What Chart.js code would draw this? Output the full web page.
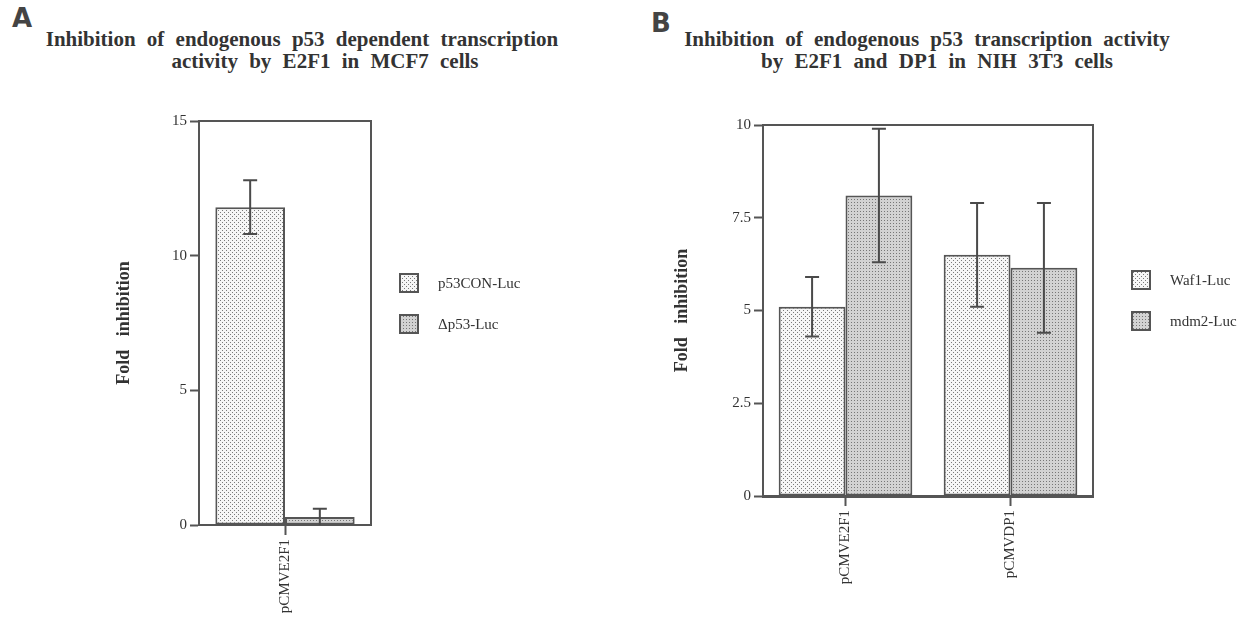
<!DOCTYPE html>
<html>
<head>
<meta charset="utf-8">
<script src="https://cdn.jsdelivr.net/npm/chart.js@4.4.0/dist/chart.umd.min.js"></script>
<style>
  body { margin: 0; background: #fff; width: 1250px; height: 620px; position: relative; overflow: hidden; font-family: 'Liberation Serif', 'Times New Roman', Times, serif; color: #333; }
  .letter { position: absolute; font-family: 'DejaVu Sans', sans-serif; font-weight: bold; font-size: 26px; color: #444; }
  .title { position: absolute; text-align: center; font-weight: bold; font-size: 21px; line-height: 22px; word-spacing: 6px; color: #333; white-space: nowrap; }
  canvas { position: absolute; top: 0; }
</style>
</head>
<body>
<div class="letter" style="left:12px;top:3px">A</div>
<div class="letter" style="left:651px;top:8px">B</div>
<div class="title" style="left:0;width:604px;top:28px">Inhibition of endogenous p53 dependent transcription</div>
<div class="title" style="left:0;width:650px;top:50px">activity by E2F1 in MCF7 cells</div>
<div class="title" style="left:627px;width:600px;top:28px">Inhibition of endogenous p53 transcription activity</div>
<div class="title" style="left:637px;width:600px;top:50px">by E2F1 and DP1 in NIH 3T3 cells</div>
<canvas id="chartA" width="625" height="620" style="left:0"></canvas>
<canvas id="chartB" width="625" height="620" style="left:625px"></canvas>

<script>
// panel A - MCF7
const categoriesA = ['pCMVE2F1'];
const p53conA = [11.8];
const p53conErrA = [1.0];
const dp53A = [0.3];
const dp53ErrA = [0.3];
const yTicksA = [0, 5, 10, 15];

// panel B - NIH 3T3
const categoriesB = ['pCMVE2F1', 'pCMVDP1'];
const waf1B = [5.1, 6.5];
const waf1ErrB = [0.8, 1.4];
const mdm2B = [8.1, 6.15];
const mdm2ErrB = [1.8, 1.75];
const yTicksB = [0, 2.5, 5, 7.5, 10];

const INK = '#555';
const serif = "'Liberation Serif', 'Times New Roman', Times, serif";

function dotPattern(bg, dot, size, pts) {
  const c = document.createElement('canvas');
  c.width = c.height = size;
  const g = c.getContext('2d');
  g.fillStyle = bg;
  g.fillRect(0, 0, size, size);
  g.fillStyle = dot;
  pts.forEach(([x, y]) => g.fillRect(x, y, 1, 1));
  return g.createPattern(c, 'repeat');
}
const lightDots = dotPattern('#f6f6f6', '#7a7a7a', 4, [[0, 0], [2, 2]]);
const denseDots = dotPattern('#d2d2d2', '#767676', 3, [[1, 1]]);

const errorBars = {
  id: 'errorBars',
  afterDatasetsDraw(chart) {
    const { ctx, scales: { y } } = chart;
    ctx.save();
    ctx.strokeStyle = '#4a4a4a';
    ctx.lineWidth = 2;
    chart.data.datasets.forEach((ds, i) => {
      chart.getDatasetMeta(i).data.forEach((bar, j) => {
        const v = ds.data[j], e = ds.errors[j];
        const hi = y.getPixelForValue(v + e);
        const lo = y.getPixelForValue(Math.max(0, v - e));
        const x = bar.x;
        ctx.beginPath();
        ctx.moveTo(x, hi); ctx.lineTo(x, lo);
        ctx.moveTo(x - 7, hi); ctx.lineTo(x + 7, hi);
        if (v - e > 0) { ctx.moveTo(x - 7, lo); ctx.lineTo(x + 7, lo); }
        ctx.stroke();
      });
    });
    ctx.restore();
  }
};

// top and right edges of the plot box
const frame = {
  id: 'frame',
  beforeDatasetsDraw(chart) {
    const { ctx, chartArea: a } = chart;
    ctx.save();
    ctx.strokeStyle = INK;
    ctx.lineWidth = 2;
    ctx.beginPath();
    ctx.moveTo(a.left, a.top); ctx.lineTo(a.right, a.top); ctx.lineTo(a.right, a.bottom);
    ctx.stroke();
    ctx.restore();
  }
};

const boxLegend = {
  id: 'boxLegend',
  afterDraw(chart, args, opts) {
    const ctx = chart.ctx;
    ctx.save();
    ctx.font = '15px ' + serif;
    ctx.textBaseline = 'middle';
    chart.data.datasets.forEach((ds, i) => {
      const y = opts.y + i * opts.gap;
      ctx.fillStyle = ds.backgroundColor;
      ctx.fillRect(opts.x, y - 9, 18, 18);
      ctx.strokeStyle = INK;
      ctx.lineWidth = 2;
      ctx.strokeRect(opts.x, y - 9, 18, 18);
      ctx.fillStyle = '#333';
      ctx.fillText(ds.label, opts.x + 38, y + 1);
    });
    ctx.restore();
  }
};

function makeChart(id, labels, datasets, yTicks, yMax, pad, yWidth, xHeight, legend, xBorder) {
  return new Chart(document.getElementById(id), {
    type: 'bar',
    data: { labels: labels, datasets: datasets },
    plugins: [frame, errorBars, boxLegend],
    options: {
      responsive: false,
      animation: false,
      devicePixelRatio: 1,
      layout: { padding: pad },
      plugins: {
        legend: { display: false },
        title: { display: false },
        tooltip: { enabled: false },
        boxLegend: legend
      },
      scales: {
        x: {
          grid: { display: true, drawOnChartArea: false, offset: false, tickLength: 10, color: INK, tickWidth: 2 },
          border: { color: INK, width: xBorder },
          ticks: { minRotation: 90, maxRotation: 90, padding: 4, color: '#333', font: { family: serif, size: 15 } },
          afterFit: (s) => { s.height = xHeight; }
        },
        y: {
          min: 0,
          max: yMax,
          grid: { display: true, drawOnChartArea: false, tickLength: 9, color: INK, tickWidth: 2 },
          border: { color: INK, width: 2 },
          ticks: { padding: 3, color: '#333', font: { family: serif, size: 15 } },
          afterBuildTicks: (s) => { s.ticks = yTicks.map(v => ({ value: v })); },
          title: {
            display: true,
            text: 'Fold   inhibition',
            color: '#333',
            padding: 0,
            font: { family: serif, size: 18, weight: 'bold', lineHeight: 1.2 }
          },
          afterFit: (s) => { s.width = yWidth; }
        }
      }
    }
  });
}

const barStyle = { borderColor: INK, borderWidth: 2, borderSkipped: false, categoryPercentage: 0.81, barPercentage: 1.0 };

makeChart('chartA', categoriesA, [
  Object.assign({ label: 'p53CON-Luc', data: p53conA, errors: p53conErrA, backgroundColor: lightDots }, barStyle),
  Object.assign({ label: '\u0394p53-Luc', data: dp53A, errors: dp53ErrA, backgroundColor: denseDots }, barStyle)
], yTicksA, 15, { left: 114, top: 121, right: 254, bottom: 5 }, 85, 90, { x: 400, y: 283, gap: 41 }, 2);

makeChart('chartB', categoriesB, [
  Object.assign({ label: 'Waf1-Luc', data: waf1B, errors: waf1ErrB, backgroundColor: lightDots }, barStyle),
  Object.assign({ label: 'mdm2-Luc', data: mdm2B, errors: mdm2ErrB, backgroundColor: denseDots }, barStyle)
], yTicksB, 10, { left: 47, top: 125, right: 157, bottom: 14 }, 91, 110, { x: 507, y: 280, gap: 41 }, 3);
</script>
</body>
</html>
